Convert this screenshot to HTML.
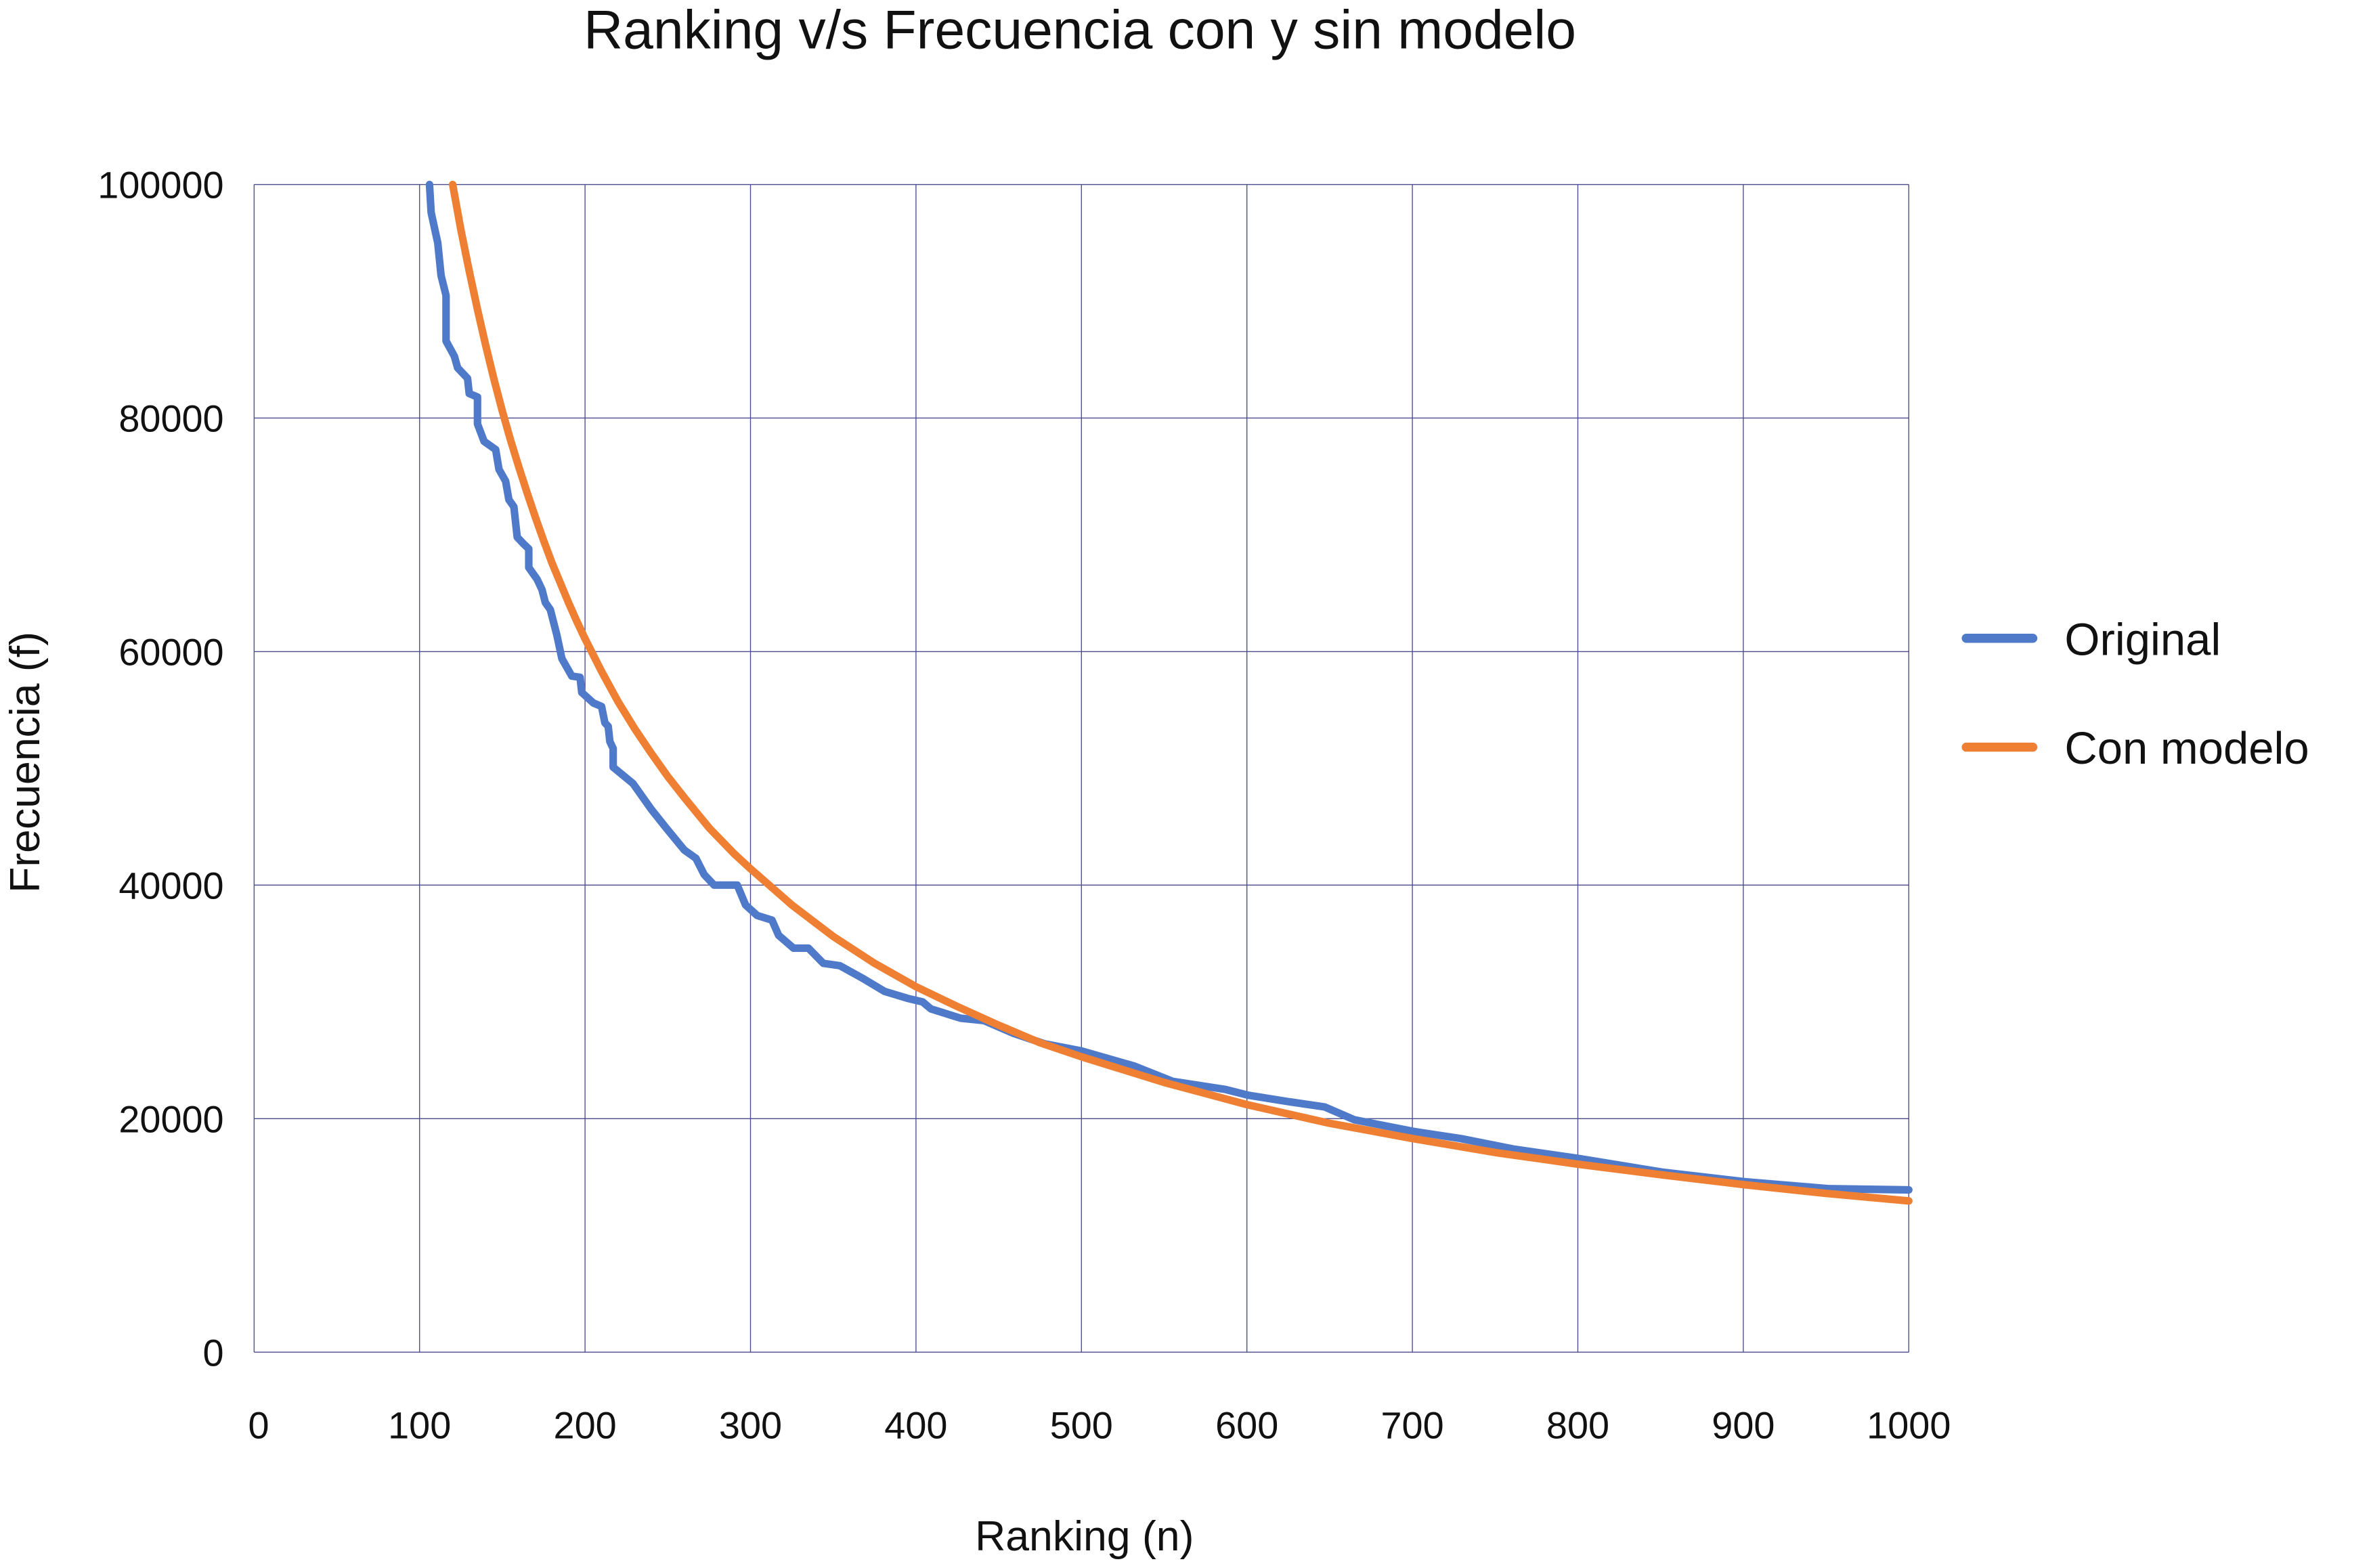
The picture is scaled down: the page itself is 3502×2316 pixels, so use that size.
<!DOCTYPE html>
<html><head><meta charset="utf-8"><style>
html,body{margin:0;padding:0;background:#fff;}
svg{display:block;font-family:"Liberation Sans",sans-serif;}
</style></head><body>
<svg id="chart" width="3502" height="2316" viewBox="0 0 1567.6 1036.7" preserveAspectRatio="none" xmlns="http://www.w3.org/2000/svg">
<text x="714" y="32" font-size="36" text-anchor="middle" fill="#111">Ranking v/s Frecuencia con y sin modelo</text>
<g id="grid"></g>
<g id="ylabels"></g>
<g id="xlabels"></g>
<text transform="translate(26,504) rotate(-90)" font-size="28" text-anchor="middle" fill="#111">Frecuencia (f)</text>
<text x="717" y="1025" font-size="28" text-anchor="middle" fill="#111">Ranking (n)</text>
<g id="series"></g>
<g>
<line x1="1300" y1="422" x2="1344" y2="422" stroke="#4f7ac9" stroke-width="6" stroke-linecap="round"/>
<text x="1365" y="433" font-size="30" fill="#111">Original</text>
<line x1="1300" y1="494" x2="1344" y2="494" stroke="#ee7f33" stroke-width="6" stroke-linecap="round"/>
<text x="1365" y="505" font-size="30" fill="#111">Con modelo</text>
</g>
</svg>
<script>
const xTicks=[0,100,200,300,400,500,600,700,800,900,1000];
const yTicks=[0,20000,40000,60000,80000,100000];
const origRank=[106,107,111,113,116,116,121,123,129,130,135,135,139,146,148,152,154,157,159,163,166,166,171,174,176,179,183,186,192,197,198,205,210,212,214,215,217,217,229,240,249,260,267,272,278,292,297,304,313,317,326,335,344,354,368,381,395,404,409,427,441,459,478,500,532,555,587,601,623,647,665,701,729,761,800,852,901,952,1000];
const origFreq=[100000,97600,95000,92200,90500,86600,85300,84300,83400,82100,81800,79500,78000,77300,75600,74600,73000,72400,69800,69200,68800,67200,66200,65300,64200,63600,61400,59400,57900,57800,56500,55600,55300,53900,53600,52300,51700,50100,48700,46500,44900,43000,42300,40900,40000,40000,38300,37400,37000,35700,34600,34600,33300,33100,32000,30900,30300,30000,29400,28600,28400,27300,26400,25800,24500,23200,22500,22000,21500,21000,19900,18900,18300,17400,16600,15400,14600,14000,13900];
const modelRank=[120,125,130,135,140,145,150,155,160,165,170,175,180,185,190,195,200,210,220,230,240,250,260,275,290,300,325,350,375,400,425,450,475,500,550,600,650,700,750,800,850,900,950,1000];
const modelFreq=[100000,96100,92600,89300,86200,83300,80600,78100,75800,73600,71500,69500,67600,65900,64200,62600,61100,58300,55700,53400,51300,49300,47500,44900,42700,41400,38300,35600,33300,31300,29600,28000,26500,25300,23100,21200,19600,18300,17100,16100,15200,14350,13600,12950];
const X0=168,X1=1262,Y0=894,Y1=122;
const sx=v=>X0+(v-0)/(1000-0)*(X1-X0);
const sy=v=>Y0-(v-0)/(100000-0)*(Y0-Y1);
const NS="http://www.w3.org/2000/svg";
const grid=document.getElementById('grid');
xTicks.forEach(t=>{
 const l=document.createElementNS(NS,'line');
 
 
 l.setAttribute('x1',sx(t));l.setAttribute('x2',sx(t));l.setAttribute('y1',Y1);l.setAttribute('y2',Y0);
 l.setAttribute('stroke','#4a4a8c');l.setAttribute('stroke-width','0.6');
 grid.appendChild(l);
 const tx=document.createElementNS(NS,'text');
 
 
 tx.setAttribute('x',t===0?sx(t)+3:sx(t));tx.setAttribute('y',951);
 tx.setAttribute('font-size','25');tx.setAttribute('text-anchor','middle');tx.setAttribute('fill','#111');
 tx.textContent=t;
 document.getElementById('xlabels').appendChild(tx);
});
yTicks.forEach(t=>{
 const l=document.createElementNS(NS,'line');
 
 
 l.setAttribute('x1',X0);l.setAttribute('x2',X1);l.setAttribute('y1',sy(t));l.setAttribute('y2',sy(t));
 l.setAttribute('stroke','#4a4a8c');l.setAttribute('stroke-width','0.6');
 grid.appendChild(l);
 const tx=document.createElementNS(NS,'text');
 
 
 tx.setAttribute('x',148);tx.setAttribute('y',sy(t)+9);
 tx.setAttribute('font-size','25');tx.setAttribute('text-anchor','end');tx.setAttribute('fill','#111');
 tx.textContent=t;
 document.getElementById('ylabels').appendChild(tx);
});
function line(xs,ys,color,name){
 const p=document.createElementNS(NS,'polyline');
 
 
 p.setAttribute('points',xs.map((x,i)=>sx(x)+','+sy(ys[i])).join(' '));
 p.setAttribute('fill','none');p.setAttribute('stroke',color);p.setAttribute('stroke-width','5');
 p.setAttribute('stroke-linejoin','round');p.setAttribute('stroke-linecap','round');
 document.getElementById('series').appendChild(p);
}
line(origRank,origFreq,'#4f7ac9','original-line');
line(modelRank,modelFreq,'#ee7f33','model-line');
</script>
</body></html>
